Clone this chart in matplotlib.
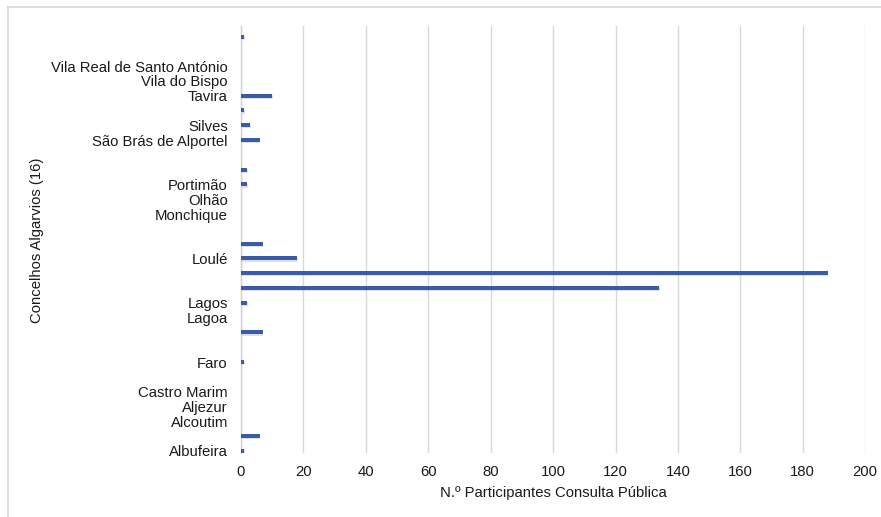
import matplotlib.pyplot as plt
import matplotlib.patheffects as pe
from matplotlib.lines import Line2D
import numpy as np

plt.rcParams['font.family'] = ['Liberation Sans', 'DejaVu Sans']

# Category slots from bottom to top; empty strings are unlabeled slots
concelhos = [
    "Albufeira", "", "Alcoutim", "Aljezur", "Castro Marim", "", "Faro", "",
    "", "Lagoa", "Lagos", "", "", "Loulé", "", "", "Monchique", "Olhão",
    "Portimão", "", "", "São Brás de Alportel", "Silves", "", "Tavira",
    "Vila do Bispo", "Vila Real de Santo António", "", "",
]
participantes = [
    1, 6, 0, 0, 0, 0, 1, 0,
    7, 0, 2, 134, 188, 18, 7, 0, 0, 0,
    2, 2, 0, 6, 3, 1, 10,
    0, 0, 0, 1,
]
x_ticks = list(range(0, 201, 20))

FS = 10.7
TXT = "#1a1a1a"

fig = plt.figure(figsize=(8.81, 5.17), dpi=100, facecolor="white")
ax = fig.add_axes([0.2736, 0.124, 0.7085, 0.826])

y = np.arange(len(concelhos))
ax.barh(y, participantes, height=0.27, color="#3a5ca8", zorder=3,
        path_effects=[pe.SimplePatchShadow(offset=(0.4, -0.8), shadow_rgbFace="#999999", alpha=0.3),
                      pe.Normal()])

ax.set_yticks(y)
ax.set_yticklabels(concelhos, fontsize=FS, color=TXT)
ax.set_ylim(-0.14, 28.72)
ax.set_xlim(0, 200)
ax.set_xticks(x_ticks)
ax.set_xticklabels([str(t) for t in x_ticks], fontsize=FS, color=TXT)
ax.tick_params(axis="both", length=0)
ax.tick_params(axis="y", pad=9.5)
ax.tick_params(axis="x", pad=9)

ax.grid(axis="x", color="#d9d9d9", linewidth=1, zorder=0)
for side in ["top", "right", "bottom"]:
    ax.spines[side].set_visible(False)
ax.spines["left"].set_color("#d0d0d0")
ax.spines["left"].set_linewidth(1)

ax.set_xlabel("N.º Participantes Consulta Pública", fontsize=FS, color=TXT, labelpad=5)
fig.text(0.042, 0.536, "Concelhos Algarvios (16)", rotation=90, fontsize=FS,
         color=TXT, ha="center", va="center")

# light frame around the chart area
fig.add_artist(Line2D([0.009, 1.0], [0.986, 0.986], color="#d9d9d9", linewidth=1.2))
fig.add_artist(Line2D([0.009, 0.009], [0.0, 0.986], color="#d9d9d9", linewidth=1.2))

fig.savefig("out.png", dpi=100)
